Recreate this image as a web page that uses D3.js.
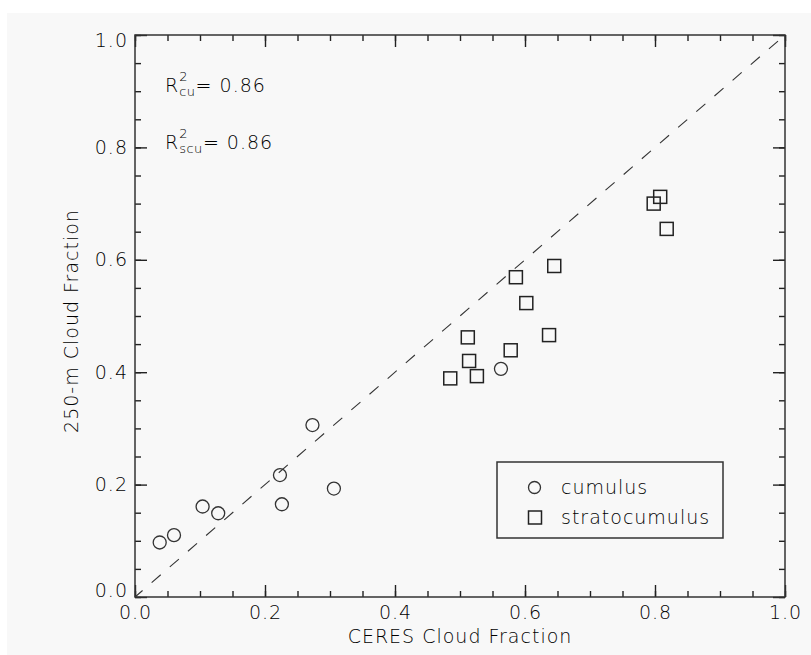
<!DOCTYPE html>
<html>
<head>
<meta charset="utf-8">
<script src="https://cdn.jsdelivr.net/npm/d3@7"></script>
<style>
  html, body { margin: 0; padding: 0; background: #ffffff; }
  svg { display: block; }
  text { font-family: "DejaVu Sans", sans-serif; font-weight: 200; fill: #000; }
</style>
</head>
<body>
<svg id="chart" width="811" height="655"></svg>
<script>
// Cloud fraction comparison: CERES vs 250-m retrievals
const cumulusX = [0.038, 0.060, 0.104, 0.128, 0.223, 0.226, 0.273, 0.306, 0.563];
const cumulusY = [0.097, 0.110, 0.161, 0.149, 0.217, 0.165, 0.306, 0.193, 0.406];

const stratoX = [0.485, 0.512, 0.514, 0.526, 0.578, 0.586, 0.602, 0.637, 0.645, 0.798, 0.808, 0.818];
const stratoY = [0.389, 0.462, 0.420, 0.393, 0.439, 0.569, 0.523, 0.466, 0.589, 0.700, 0.712, 0.655];

const majorTicks = [0, 0.2, 0.4, 0.6, 0.8, 1.0];
const minorTicks = d3.range(0, 1.0001, 0.05);

const seriesNames = ["cumulus", "stratocumulus"];
const fitLabels = ["cu", "scu"];
const fitValues = ["0.86", "0.86"];

const xTitle = "CERES Cloud Fraction";
const yTitle = "250-m Cloud Fraction";

// ---- layout ----
const W = 811, H = 655;
const plotLeft = 135, plotRight = 785, plotTop = 35, plotBottom = 597;
const FONT = 19;
const ink = "#222";
const textInk = "#000";

const svg = d3.select("#chart");

svg.append("rect")
  .attr("x", 7).attr("y", 13)
  .attr("width", W - 7).attr("height", H - 13)
  .attr("fill", "#f8f8f8");

const x = d3.scaleLinear().domain([0, 1]).range([plotLeft, plotRight]);
const y = d3.scaleLinear().domain([0, 1]).range([plotBottom, plotTop]);

function styleAxis(g) {
  g.select(".domain").remove();
  g.selectAll(".tick line").attr("stroke", ink).attr("stroke-width", 1.4);
  g.selectAll("text")
    .attr("font-size", FONT)
    .attr("letter-spacing", 1)
    .attr("fill", textInk)
    .attr("font-family", "DejaVu Sans, sans-serif")
    .attr("font-weight", 200);
}

const fmt = d3.format(".1f");

// minor ticks on all four sides
svg.append("g").attr("transform", `translate(0,${plotBottom})`)
  .call(d3.axisBottom(x).tickValues(minorTicks).tickSize(-6).tickFormat(""))
  .call(styleAxis);
svg.append("g").attr("transform", `translate(0,${plotTop})`)
  .call(d3.axisTop(x).tickValues(minorTicks).tickSize(-6).tickFormat(""))
  .call(styleAxis);
svg.append("g").attr("transform", `translate(${plotLeft},0)`)
  .call(d3.axisLeft(y).tickValues(minorTicks).tickSize(-6).tickFormat(""))
  .call(styleAxis);
svg.append("g").attr("transform", `translate(${plotRight},0)`)
  .call(d3.axisRight(y).tickValues(minorTicks).tickSize(-6).tickFormat(""))
  .call(styleAxis);

// major ticks with labels (bottom, left) and without (top, right)
svg.append("g").attr("transform", `translate(0,${plotBottom})`)
  .call(d3.axisBottom(x).tickValues(majorTicks).tickSize(-12).tickPadding(9).tickFormat(fmt))
  .call(styleAxis);
svg.append("g").attr("transform", `translate(0,${plotTop})`)
  .call(d3.axisTop(x).tickValues(majorTicks).tickSize(-12).tickFormat(""))
  .call(styleAxis);
const yAxisG = svg.append("g").attr("transform", `translate(${plotLeft},0)`)
  .call(d3.axisLeft(y).tickValues(majorTicks).tickSize(-12).tickPadding(7).tickFormat(fmt))
  .call(styleAxis);
svg.append("g").attr("transform", `translate(${plotRight},0)`)
  .call(d3.axisRight(y).tickValues(majorTicks).tickSize(-12).tickFormat(""))
  .call(styleAxis);

// end labels on the y axis are nudged inward
yAxisG.selectAll(".tick text")
  .attr("y", d => d === 0 ? -7 : (d === 1 ? 5 : 0));

// frame
svg.append("rect")
  .attr("x", plotLeft).attr("y", plotTop)
  .attr("width", plotRight - plotLeft).attr("height", plotBottom - plotTop)
  .attr("fill", "none").attr("stroke", "#333").attr("stroke-width", 1.5);

// one-to-one reference line
svg.append("line")
  .attr("x1", x(0)).attr("y1", y(0))
  .attr("x2", x(1)).attr("y2", y(1))
  .attr("stroke", "#333").attr("stroke-width", 1.1)
  .attr("stroke-dasharray", "12,12")
  .attr("stroke-dashoffset", 2);

// markers
const R = 6.5, S = 13;
svg.append("g").selectAll("circle")
  .data(d3.zip(cumulusX, cumulusY))
  .join("circle")
  .attr("cx", d => x(d[0])).attr("cy", d => y(d[1]))
  .attr("r", R)
  .attr("fill", "none").attr("stroke", "#333").attr("stroke-width", 1.3);

svg.append("g").selectAll("rect")
  .data(d3.zip(stratoX, stratoY))
  .join("rect")
  .attr("x", d => x(d[0]) - S / 2).attr("y", d => y(d[1]) - S / 2)
  .attr("width", S).attr("height", S)
  .attr("fill", "none").attr("stroke", "#222").attr("stroke-width", 1.5);

// axis titles
svg.append("text")
  .attr("x", (plotLeft + plotRight) / 2).attr("y", 643)
  .attr("text-anchor", "middle")
  .attr("font-size", FONT).attr("letter-spacing", 1)
  .text(xTitle);

svg.append("text")
  .attr("transform", `translate(78,${(plotTop + plotBottom) / 2 + 5}) rotate(-90)`)
  .attr("text-anchor", "middle")
  .attr("font-size", FONT).attr("letter-spacing", 1)
  .text(yTitle);

// R² annotations
const annX = 165;
const annY = [92, 149];
fitLabels.forEach((lab, i) => {
  const by = annY[i];
  const rT = svg.append("text").attr("x", annX).attr("y", by)
    .attr("font-size", FONT).text("R");
  const rw = rT.node().getComputedTextLength();
  const sx = annX + rw + 1;
  const sup = svg.append("text").attr("x", sx).attr("y", by - 11)
    .attr("font-size", 13).attr("font-weight", 400).text("2");
  const sub = svg.append("text").attr("x", sx).attr("y", by + 4)
    .attr("font-size", 13).attr("font-weight", 400).attr("letter-spacing", 0.5).text(lab);
  const w2 = Math.max(sup.node().getComputedTextLength(), sub.node().getComputedTextLength());
  svg.append("text").attr("x", sx + w2).attr("y", by)
    .attr("font-size", FONT).attr("letter-spacing", 1)
    .attr("xml:space", "preserve")
    .text("= " + fitValues[i]);
});

// legend
const lg = svg.append("g").attr("transform", "translate(497,462)");
lg.append("rect")
  .attr("width", 226).attr("height", 76)
  .attr("fill", "none").attr("stroke", "#333").attr("stroke-width", 1.5);
lg.append("circle").attr("cx", 37.5).attr("cy", 25.5).attr("r", 6)
  .attr("fill", "none").attr("stroke", "#333").attr("stroke-width", 1.3);
lg.append("rect").attr("x", 38 - S / 2).attr("y", 55.5 - S / 2)
  .attr("width", S).attr("height", S)
  .attr("fill", "none").attr("stroke", "#222").attr("stroke-width", 1.5);
seriesNames.forEach((name, i) => {
  lg.append("text")
    .attr("x", 64).attr("y", 32 + i * 30)
    .attr("font-size", FONT).attr("letter-spacing", 1)
    .text(name);
});
</script>
</body>
</html>
